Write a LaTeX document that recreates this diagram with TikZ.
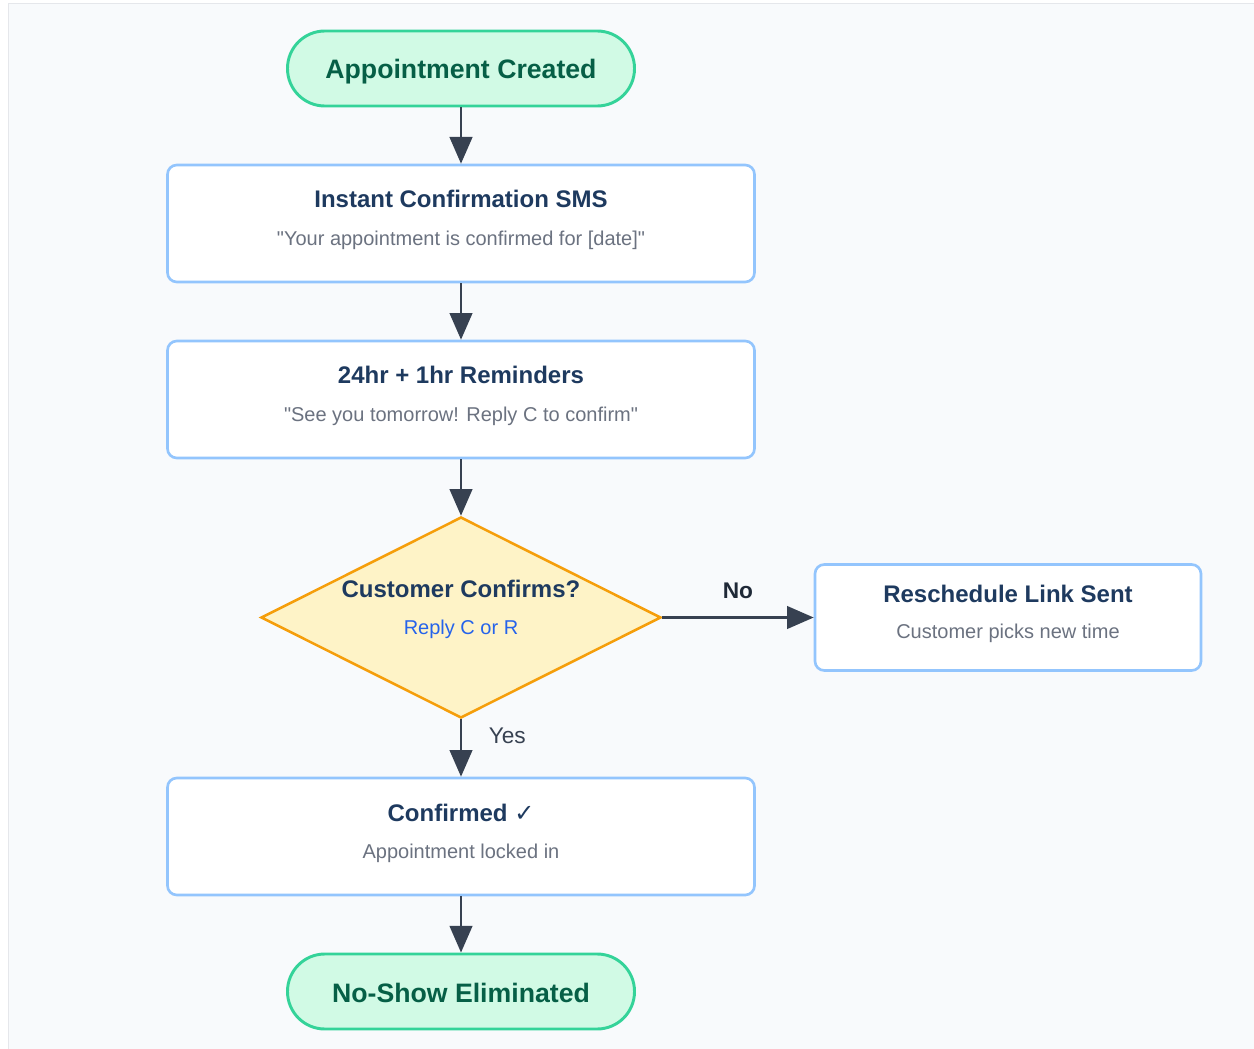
\documentclass[tikz,border=0pt]{standalone}
\usepackage{fontspec}
\setmainfont{Liberation Sans}[Ligatures=TeXOff]
\newfontfamily\symfont{DejaVu Sans}
\usetikzlibrary{calc,positioning,shapes.geometric,arrows.meta}

\definecolor{panelbg}{HTML}{F8FAFC}
\definecolor{panelln}{HTML}{E5E7EB}
\definecolor{greenbg}{HTML}{D1FAE5}
\definecolor{greenln}{HTML}{34D399}
\definecolor{greentx}{HTML}{065F46}
\definecolor{blueln}{HTML}{93C5FD}
\definecolor{navytx}{HTML}{1E3A5F}
\definecolor{graytx}{HTML}{6B7280}
\definecolor{ambbg}{HTML}{FEF3C7}
\definecolor{ambln}{HTML}{F59E0B}
\definecolor{linktx}{HTML}{2563EB}
\definecolor{arrowc}{HTML}{374151}
\definecolor{lbltx}{HTML}{1F2937}

\tikzstyle{terminal}=[rectangle, rounded corners=28pt, draw=greenln, fill=greenbg, line width=2.2pt, minimum width=260.25pt, minimum height=56.25pt, text=greentx, font=\fontsize{20}{23}\selectfont\bfseries, text height=15.75pt, text depth=0pt]
\tikzstyle{stepbox}=[rectangle, rounded corners=7pt, draw=blueln, fill=white, line width=2pt, minimum width=440.25pt, minimum height=87.75pt]
\tikzstyle{title}=[inner sep=0pt, anchor=base, text=navytx, font=\fontsize{18}{21}\selectfont\bfseries]
\tikzstyle{sub}=[inner sep=0pt, anchor=base, text=graytx, font=\fontsize{15}{18}\selectfont]
\tikzstyle{lbl}=[inner sep=0pt, text=lbltx, font=\fontsize{17}{20}\selectfont]
\tikzstyle{flow}=[line width=1.7pt, draw=arrowc, -{Triangle[length=20pt,width=17pt]}]

\begin{document}
\begin{tikzpicture}[x=0.75pt,y=-0.75pt]

\useasboundingbox (0,0) rectangle (1254,1049);
\draw[panelln, fill=panelbg, line width=0.75pt] (8,4) rectangle (1270,1070);

\node[terminal] (start) at (461,68.5) {Appointment Created};
\node[stepbox, below of=start, node distance=116.25pt] (sms) {};
\node[stepbox, below of=sms, node distance=132pt] (rem) {};
\node[diamond, draw=ambln, fill=ambbg, line width=1.9pt, minimum width=300pt, minimum height=150.75pt, inner sep=0pt, below of=rem, node distance=163.5pt] (ask) {};
\node[stepbox, minimum width=289.5pt, minimum height=79.5pt, right of=ask, node distance=410.25pt] (resched) {};
\node[stepbox, below of=ask, node distance=164.25pt] (ok) {};
\node[terminal, below of=ok, node distance=116.25pt] (stop) {No-Show Eliminated};

\node[title] (sms-t) at ($(sms)+(0,-16)$) {Instant Confirmation SMS};
\node[sub] (sms-s) at ($(sms)+(0,21.5)$) {"Your appointment is confirmed for [date]"};
\node[title] (rem-t) at ($(rem)+(0,-16)$) {24hr + 1hr Reminders};
\node[sub] (rem-s) at ($(rem)+(0,21.5)$) {"See you tomorrow! Reply C to confirm"};
\node[title] (ask-t) at ($(ask)+(0,-20)$) {Customer Confirms?};
\node[sub, text=linktx] (ask-s) at ($(ask)+(0,16.5)$) {Reply C or R};
\node[title] (resched-t) at ($(resched)+(0,-15.5)$) {Reschedule Link Sent};
\node[sub] (resched-s) at ($(resched)+(0,21)$) {Customer picks new time};
\node[title] (ok-t) at ($(ok)+(0,-15)$) {Confirmed {\symfont\mdseries ✓}};
\node[sub] (ok-s) at ($(ok)+(0,21.5)$) {Appointment locked in};

\draw[flow] (start) -- (sms);
\draw[flow] (sms) -- (rem);
\draw[flow] (rem) -- (ask);
\draw[flow] (ask) -- node[lbl, midway, above=13pt, font=\fontsize{17}{20}\selectfont\bfseries] (no) {No} (resched);
\draw[flow] (ask) -- node[lbl, pos=0.28, anchor=west, xshift=20pt, text=arrowc] (yes) {Yes} (ok);
\draw[flow] (ok) -- (stop);
\end{tikzpicture}
\end{document}
